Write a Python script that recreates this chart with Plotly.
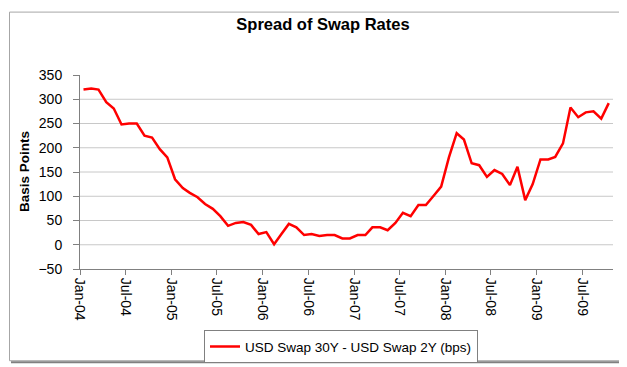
import plotly.graph_objects as go

# ---- data ----
start_year = 2004
n_months = 70
months = [f"{start_year + (i // 12)}-{(i % 12) + 1:02d}-15" for i in range(n_months)]
spread_bps = [
    320, 322, 320, 294, 281, 248, 250, 250, 225, 221, 197, 180,
    135, 117, 107, 98, 84, 74, 59, 39, 45, 47, 41, 22,
    26, 1, 21, 43, 36, 20, 22, 18, 20, 20, 13, 13,
    20, 20, 36, 36, 30, 45, 66, 59, 82, 82, 101, 120,
    180, 230, 217, 168, 164, 140, 154, 146, 123, 161, 92, 125,
    176, 176, 181, 209, 283, 263, 273, 275, 260, 292,
]
series_name = "USD Swap 30Y - USD Swap 2Y (bps)"
title_text = "Spread of Swap Rates"
y_title = "Basis Points"
grid_values = [0, 50, 100, 150, 200, 250, 300]
y_range = [-50, 350]
x_range = ["2004-01-01", "2009-11-01"]

# ---- layout geometry ----
W, H = 627, 367
L, R, T, B = 72, 22, 67, 98
pw, ph = W - L - R, H - T - B

def px_x(p):
    return (p - L) / pw

def px_y(p):
    return (H - B - p) / ph

FONT = "Liberation Sans, Arial, sans-serif"
GREY = "#808080"

fig = go.Figure()
fig.add_trace(go.Scatter(
    x=months, y=spread_bps, mode="lines", name=series_name,
    line=dict(color="#FF0000", width=2.5),
    showlegend=True,
))

shapes = []
for g in grid_values:
    shapes.append(dict(type="line", xref="paper", yref="y", x0=0, x1=1, y0=g, y1=g,
                       line=dict(color="#C8C8C8", width=1), layer="below"))
# outer frame
shapes.append(dict(type="rect", xref="paper", yref="paper",
                   x0=px_x(1.5), x1=px_x(624.5), y0=px_y(364.5), y1=px_y(1.5),
                   line=dict(color="#A6A6A6", width=1), layer="above"))
# shadow right & bottom
shapes.append(dict(type="line", xref="paper", yref="paper",
                   x0=px_x(626), x1=px_x(626), y0=px_y(3), y1=px_y(366),
                   line=dict(color="#808080", width=2)))
shapes.append(dict(type="line", xref="paper", yref="paper",
                   x0=px_x(3), x1=px_x(626), y0=px_y(366), y1=px_y(366),
                   line=dict(color="#808080", width=2)))

fig.update_layout(
    width=W, height=H,
    margin=dict(l=L, r=R, t=T, b=B),
    paper_bgcolor="white", plot_bgcolor="white",
    font=dict(family=FONT, size=12, color="black"),
    title=dict(text=f"<b>{title_text}</b>", x=315 / W, xanchor="center",
               y=1 - 16 / H, yanchor="middle",
               font=dict(family=FONT, size=16.5, color="black")),
    xaxis=dict(type="date", range=x_range, tickformat="%b-%y", dtick="M6",
               tick0="2004-01-01", tickangle=90, ticks="outside", ticklen=5,
               tickcolor=GREY, showline=True, linecolor=GREY, linewidth=1,
               showgrid=False, zeroline=False,
               tickfont=dict(family=FONT, size=14, color="black")),
    yaxis=dict(range=y_range, dtick=50, tick0=0, ticks="outside", ticklen=6,
               tickcolor=GREY, showline=True, linecolor=GREY, linewidth=1,
               showgrid=False, zeroline=False, ticklabelstandoff=8,
               tickfont=dict(family=FONT, size=14, color="black")),
    legend=dict(orientation="h", x=px_x(196), xanchor="left",
                y=px_y(350), yanchor="middle",
                bordercolor=GREY, borderwidth=1, bgcolor="white",
                font=dict(family=FONT, size=13.5, color="black")),
    shapes=shapes,
    annotations=[dict(text=f"<b>{y_title}</b>", xref="paper", yref="paper",
                      x=px_x(16), y=px_y(167), textangle=-90, showarrow=False,
                      xanchor="center", yanchor="middle",
                      font=dict(family=FONT, size=13.5, color="black"))],
)

fig.write_html("out.html")
